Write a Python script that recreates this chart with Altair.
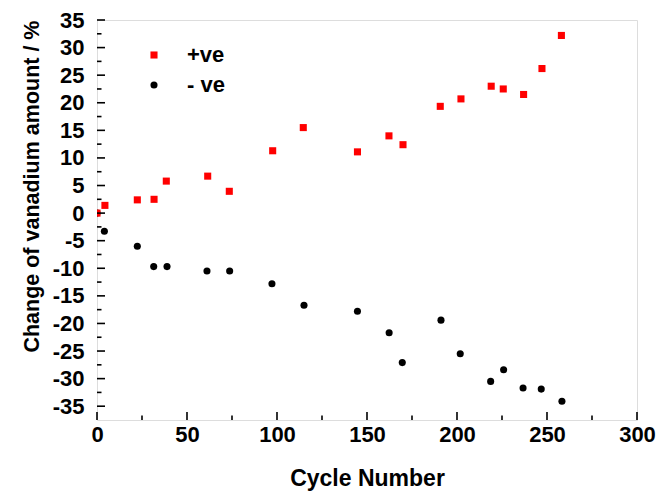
import altair as alt
import pandas as pd

# +ve electrolyte (red squares)
pos_cycle = [0, 4.4, 22.4, 31.7, 38.5, 61.5, 73.5, 97.6, 114.6, 144.7, 162.2, 170.0, 190.7, 202.2, 219.0, 225.7, 237.0, 247.2, 258.0]
pos_change = [0.0, 1.4, 2.4, 2.5, 5.8, 6.7, 3.95, 11.3, 15.5, 11.1, 14.0, 12.4, 19.35, 20.7, 23.0, 22.5, 21.5, 26.2, 32.2]

# -ve electrolyte (black circles)
neg_cycle = [0, 4.1, 22.4, 31.5, 38.9, 61.1, 73.7, 97.2, 115.0, 144.7, 162.3, 169.6, 191.1, 201.8, 218.7, 225.9, 236.7, 246.8, 258.3]
neg_change = [0.0, -3.3, -6.0, -9.7, -9.7, -10.5, -10.5, -12.8, -16.7, -17.8, -21.7, -27.1, -19.4, -25.5, -30.5, -28.4, -31.7, -31.9, -34.1]

series_names = ["+ve", "- ve"]
series_colors = ["#ff0000", "#000000"]
series_shapes = ["square", "circle"]

x_major = [0, 50, 100, 150, 200, 250, 300]
x_minor = [25, 75, 125, 175, 225, 275]
y_major = [-35, -30, -25, -20, -15, -10, -5, 0, 5, 10, 15, 20, 25, 30, 35]
y_minor = [-32.5, -27.5, -22.5, -17.5, -12.5, -7.5, -2.5, 2.5, 7.5, 12.5, 17.5, 22.5, 27.5, 32.5]

W, H = 540, 400
FONT = "Liberation Sans"

df = pd.concat([
    pd.DataFrame({"cycle": neg_cycle, "change": neg_change, "series": series_names[1]}),
    pd.DataFrame({"cycle": pos_cycle, "change": pos_change, "series": series_names[0]}),
])

xscale = alt.Scale(domain=[0, 300], nice=False, zero=False)
yscale = alt.Scale(domain=[-37.5, 35], nice=False, zero=False)

xaxis = alt.Axis(values=x_major, title="Cycle Number", ticks=False, tickSize=0,
                 domain=False, grid=False, labelPadding=4, titlePadding=22,
                 labelOverlap=False, labelFlush=False, labelExpr="'' + datum.value",
                 labelFont=FONT, labelFontSize=22, labelFontWeight="bold",
                 labelColor="black", titleFont=FONT, titleFontSize=23,
                 titleFontWeight="bold", titleColor="black")
yaxis = alt.Axis(values=y_major, title="Change of vanadium amount / %", ticks=False,
                 tickSize=0, domain=False, grid=False, labelPadding=13, titlePadding=9,
                 labelOverlap=False, labelFlush=False, labelExpr="'' + datum.value",
                 titleAnchor="end",
                 labelFont=FONT, labelFontSize=22, labelFontWeight="bold",
                 labelColor="black", titleFont=FONT, titleFontSize=21.5,
                 titleFontWeight="bold", titleColor="black")

points = alt.Chart(df).mark_point(filled=True, opacity=1, size=50, clip=True).encode(
    x=alt.X("cycle:Q", scale=xscale, axis=xaxis),
    y=alt.Y("change:Q", scale=yscale, axis=yaxis),
    color=alt.Color("series:N", scale=alt.Scale(domain=series_names, range=series_colors),
                    legend=alt.Legend(title=None, orient="none", legendX=46, legendY=24,
                                      labelFont=FONT, labelFontSize=22, labelFontWeight="bold",
                                      labelColor="black", labelOffset=22, symbolSize=50,
                                      rowPadding=8, padding=0, symbolStrokeWidth=0)),
    shape=alt.Shape("series:N", scale=alt.Scale(domain=series_names, range=series_shapes)),
)

xt_major = alt.Chart(pd.DataFrame({"t": x_major})).mark_rule(color="black", strokeWidth=1.6).encode(
    x=alt.X("t:Q", scale=xscale, axis=xaxis), y=alt.value(H), y2=alt.value(H - 8))
xt_minor = alt.Chart(pd.DataFrame({"t": x_minor})).mark_rule(color="black", strokeWidth=1.6).encode(
    x=alt.X("t:Q", scale=xscale, axis=xaxis), y=alt.value(H), y2=alt.value(H - 4.5))
yt_major = alt.Chart(pd.DataFrame({"t": y_major})).mark_rule(color="black", strokeWidth=1.6).encode(
    y=alt.Y("t:Q", scale=yscale, axis=yaxis), x=alt.value(0), x2=alt.value(8))
yt_minor = alt.Chart(pd.DataFrame({"t": y_minor})).mark_rule(color="black", strokeWidth=1.6).encode(
    y=alt.Y("t:Q", scale=yscale, axis=yaxis), x=alt.value(0), x2=alt.value(4.5))

chart = alt.layer(points, xt_major, xt_minor, yt_major, yt_minor).properties(
    width=W, height=H,
    autosize=alt.AutoSizeParams(type="none"),
    padding={"left": 89, "top": 12, "right": 20, "bottom": 72},
).configure_view(stroke="black", strokeWidth=2.5).configure(background="white")

chart.save("out.html", embed_options={"renderer": "svg", "actions": False})
